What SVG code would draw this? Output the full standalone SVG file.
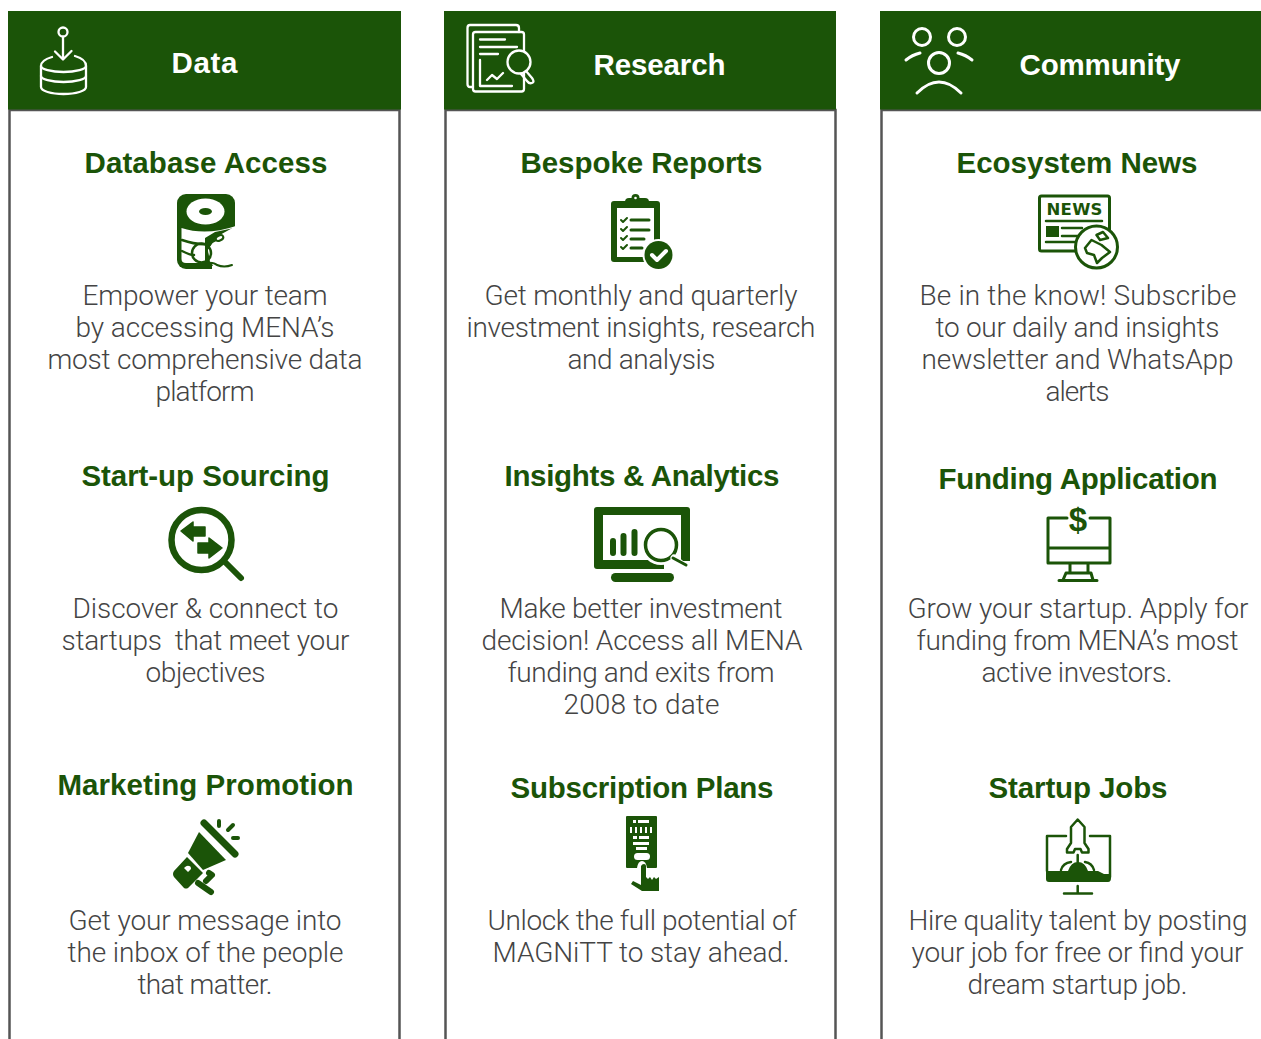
<svg xmlns="http://www.w3.org/2000/svg" width="1261" height="1039" viewBox="0 0 1261 1039">
<style>
text{white-space:pre}
.b{font-family:Roboto,"Liberation Sans",sans-serif;font-weight:300;font-size:28px;fill:#444}
.t{font-family:"Liberation Sans",Arial,sans-serif;font-weight:700;font-size:29.500px;fill:#1b5408}
.h{font-family:"Liberation Sans",Arial,sans-serif;font-weight:700;font-size:29.500px;fill:#fff}
.hd{fill:#1b5408}
.col{fill:#fff;stroke:#555;stroke-width:2.500}
.w{fill:none;stroke:#fff;stroke-width:2.300;stroke-linecap:round;stroke-linejoin:round}
.g{fill:#1b5408}
.gs{fill:none;stroke:#1b5408;stroke-linecap:round;stroke-linejoin:round}
.ws{fill:none;stroke:#fff;stroke-linecap:round;stroke-linejoin:round}
</style>
<rect width="1261" height="1039" fill="#fff"/>

<g id="col-data">
<rect class="col" x="9.500" y="110" width="390" height="940"/>
<rect class="hd" x="8" y="11" width="393" height="98.500"/>
<g id="icon-data" class="w">
<circle cx="63" cy="32" r="4.500"/><path d="M63 37V59M55 51.500l8 8 8.500-8.500"/>
<path d="M52 57C45 59 41 62 41 66V87C41 91 51 94 63.500 94S86 91 86 87V66C86 62 82 58 75 56"/>
<path d="M41 66C41 69 51 72 63.500 72S86 69 86 66M41 76C41 79 51 82 63.500 82S86 79 86 76"/>
</g>
<text class="h" x="171.500" y="73" textLength="66">Data</text>
</g>

<g id="col-research">
<rect class="col" x="445.500" y="110" width="390" height="940"/>
<rect class="hd" x="444" y="11" width="392" height="98.500"/>
<g id="icon-research" class="w">
<path d="M473 87H470Q467.500 87 467.500 84V28Q467.500 25 470 25H516Q519 25 519 28V32"/>
<rect x="473" y="32" width="51" height="59.500" rx="2.500"/>
<path d="M480 39.500H505M480 47H517M480 54H498M480 60V86H512M487 80L492 75 497 79 503 73"/>
<circle cx="519" cy="62" r="11.500" fill="#1b5408"/>
<path d="M526 71L532 78Q535 82 532 83 529 84 527 81L521 74"/>
</g>
<text class="h" x="593.500" y="75" textLength="132">Research</text>
</g>

<g id="col-community">
<rect class="col" x="881.500" y="110" width="400" height="940"/>
<rect class="hd" x="880" y="11" width="381" height="98.500"/>
<g id="icon-community" class="w" style="stroke-width:3">
<circle cx="922" cy="37" r="8.500"/><circle cx="957" cy="37" r="8.500"/><circle cx="939" cy="63" r="10.500"/>
<path d="M906 60Q912 55 920 53M958 53Q966 55 972 60M917 93Q939 71 961 93"/>
</g>
<text class="h" x="1019.500" y="75" textLength="161">Community</text>
</g>

<g id="node-database-access">
<text class="t" x="84.500" y="173" textLength="243">Database Access</text>
<rect class="g" x="177" y="194" width="58" height="75" rx="9"/>
<ellipse cx="205.500" cy="211.500" rx="19" ry="13" fill="#fff"/><ellipse class="g" cx="205.500" cy="211.500" rx="6.500" ry="3.500"/>
<path d="M181.500 228Q206 236 236 226V272H212V263H186Q181.500 263 181.500 259Z" fill="#fff"/>
<path class="g" d="M234 228L216 238 208 250 210 262 218 266H205V238L215 232Z"/>
<path d="M236 226L218 236 208 250 211 262 216 272H237Z" fill="#fff"/>
<path class="gs" stroke-width="2.500" d="M182 240Q196 245 208 244M182 251Q190 255 194 255"/>
<circle class="gs" cx="201.500" cy="253" r="9.500" stroke-width="2.500"/>
<path class="gs" stroke-width="2.500" d="M206 245L216 240"/>
<ellipse cx="219.500" cy="238" rx="4" ry="2.500" fill="#fff" stroke="#1b5408" stroke-width="2" transform="rotate(-25 219.500 238)"/>
<path class="gs" stroke-width="2" d="M206 263Q214 262 217 265 224 268 232 265"/>
<path class="g" d="M186 263H212L212 269H186Z"/>
</g>

<g id="node-bespoke-reports">
<text class="t" x="520.500" y="173" textLength="242">Bespoke Reports</text>
<rect class="g" x="611" y="201" width="49" height="61" rx="3"/>
<rect class="g" x="625" y="198" width="24" height="9" rx="4"/><circle class="g" cx="635.500" cy="198" r="4"/><circle cx="635.500" cy="198" r="1.300" fill="#fff"/>
<rect x="617" y="208" width="37" height="49" fill="#fff"/>
<path class="gs" stroke-width="2" d="M621 220l2 2 4-4M621 229l2 2 4-4M621 238l2 2 4-4M621 247l2 2 4-4"/>
<path class="gs" stroke-width="3" d="M631 220H649M631 230H649M631 239H644M631 248H642"/>
<circle cx="658.500" cy="255" r="16" fill="#fff"/><circle class="g" cx="658.500" cy="255" r="14"/>
<path class="ws" stroke-width="4" d="M652 255l5 5 9-9"/>
</g>

<g id="node-ecosystem-news">
<text class="t" x="956.500" y="173" textLength="241">Ecosystem News</text>
<rect class="gs" x="1039.500" y="196" width="70" height="55" rx="2" stroke-width="3"/>
<text x="1046.500" y="215" font-family="'DejaVu Sans',sans-serif" font-weight="700" font-size="16.500" fill="#1b5408" textLength="56">NEWS</text>
<path class="gs" stroke-width="2.500" d="M1046 221H1102M1062 228H1082M1062 236H1078M1046 242H1076"/>
<rect class="g" x="1046" y="226" width="13" height="11"/>
<circle cx="1096.500" cy="247" r="21" fill="#fff" stroke="#1b5408" stroke-width="3"/>
<path class="gs" stroke-width="2.500" d="M1085 248L1091.500 240 1101.500 245 1110 252 1102 258 1097 263 1094 255 1087 253ZM1096.500 235L1103 232 1108 238 1100 240Z"/>
</g>

<g id="node-startup-sourcing">
<text class="t" x="81.500" y="486" textLength="248">Start-up Sourcing</text>
<circle class="gs" cx="201.500" cy="540" r="30" stroke-width="6.500"/>
<path class="gs" stroke-width="6" d="M226 563L241 578"/>
<path class="g" d="M181 531L193 522V527H205V536H193V541ZM222 548L209 538V543H198V553H209V558Z" stroke="#1b5408" stroke-width="1.500" stroke-linejoin="round"/>
</g>

<g id="node-insights">
<text class="t" x="504.500" y="486" textLength="275">Insights &amp; Analytics</text>
<rect class="g" x="594" y="507" width="96" height="62" rx="3"/>
<rect x="603" y="515" width="78" height="45" fill="#fff"/>
<path class="gs" stroke-width="6" d="M613 541V553M623.500 536V553M634.500 532V553"/>
<path d="M664 561H692V572H664Z" fill="#fff"/>
<circle cx="661" cy="545" r="20" fill="#fff"/>
<circle class="gs" cx="661" cy="545" r="15.500" stroke-width="3.500"/>
<path class="ws" stroke-width="7" d="M674 558L686 568"/>
<path class="gs" stroke-width="3" d="M673 558L686 565"/>
<rect class="g" x="611" y="573" width="63" height="9" rx="4.500"/>
</g>

<g id="node-funding">
<text class="t" x="938.500" y="489" textLength="279">Funding Application</text>
<path class="gs" stroke-width="3" d="M1067 518H1048V563H1110V518H1090M1048 548H1110M1070 564V572M1088 564V572M1066 573H1091L1093 580M1066 573L1063 580M1059 580.500H1097"/>
<text x="1078" y="531" text-anchor="middle" font-family="'Liberation Sans',sans-serif" font-weight="700" font-size="33" fill="#1b5408">$</text>
</g>

<g id="node-marketing">
<text class="t" x="57.500" y="795" textLength="296">Marketing Promotion</text>
<path class="gs" stroke-width="7" d="M204 823L235 854"/>
<path class="g" d="M199 832L226 860 203 870 188 853Z"/>
<path class="g" fill-rule="evenodd" d="M187 857L203 873 188 888Q186 889 184 888L174 877Q172 874 174 871ZM184 868L188 872 191 869Q191 866 189 866 187 865 184 868Z"/>
<path class="gs" stroke-width="4" d="M219 821V826M228 830L233 825M233 838H238"/>
<path class="gs" stroke-width="6" d="M209 873L212 875 206 881M198 883L211 892"/>
</g>

<g id="node-subscription">
<text class="t" x="510.500" y="798" textLength="263">Subscription Plans</text>
<rect class="g" x="626" y="816" width="31" height="52" rx="1"/>
<path fill="#fff" d="M633 820h3v3h-3zM638 820h11v3h-11zM630 827h2v6h-2zM635 827h2v6h-2zM640 827h2v6h-2zM645 827h2v6h-2zM650 827h2v6h-2zM633 836h4v3h-4zM639 836h10v3h-10zM633 842h16v3h-16zM636 847h11v3h-11z"/>
<rect x="634" y="853" width="16" height="7" rx="3.500" fill="#fff"/>
<path d="M637 868Q638 861 642 861T647 868Z" fill="#fff"/>
<path class="g" d="M641 866Q642 864 644 864 646 864 646 866V877L648 879 650 877 652 880 654 877 656 879 659 877V891H642L631 884 633 881 641 885Z"/>
</g>

<g id="node-startup-jobs">
<text class="t" x="988.500" y="798" textLength="179">Startup Jobs</text>
<path class="gs" stroke-width="2.500" d="M1066 836H1047V871M1090 836H1110V877"/>
<path class="g" d="M1046 871H1068Q1071 862 1078 862 1085 862 1088 871H1098L1104 874 1111 874V878Q1111 882 1108 882H1049Q1046 882 1046 879Z"/>
<path class="gs" stroke-width="2.500" d="M1061 870Q1063 863 1071 862M1094 870Q1092 863 1085 862"/>
<path class="gs" stroke-width="2.500" d="M1077.700 819.500L1071 827V843L1067 849V852.500H1073.500L1075 849H1080.500L1082 852.500H1088.500V849L1084.500 843V827Z"/>
<path class="gs" stroke-width="2.500" d="M1077.700 855V862M1077.700 886V893M1064 893.500H1092"/>
</g>

<g id="body-text" transform="translate(-0.500 0)">
<text class="b" x="83" y="305" textLength="245">Empower your team</text>
<text class="b" x="76" y="337" textLength="259">by accessing MENA’s</text>
<text class="b" x="48" y="369" textLength="315">most comprehensive data</text>
<text class="b" x="156" y="401" textLength="99">platform</text>
<text class="b" x="73" y="618" textLength="266">Discover &amp; connect to</text>
<text class="b" x="62" y="650" textLength="288">startups  that meet your</text>
<text class="b" x="146" y="682" textLength="120">objectives</text>
<text class="b" x="69" y="930" textLength="273">Get your message into</text>
<text class="b" x="68" y="962" textLength="276">the inbox of the people</text>
<text class="b" x="138" y="994" textLength="135">that matter.</text>
<text class="b" x="485" y="305" textLength="313">Get monthly and quarterly</text>
<text class="b" x="467" y="337" textLength="349">investment insights, research</text>
<text class="b" x="568" y="369" textLength="148">and analysis</text>
<text class="b" x="500" y="618" textLength="283">Make better investment</text>
<text class="b" x="482" y="650" textLength="321">decision! Access all MENA</text>
<text class="b" x="508" y="682" textLength="267">funding and exits from</text>
<text class="b" x="564" y="714" textLength="156">2008 to date</text>
<text class="b" x="488" y="930" textLength="309">Unlock the full potential of</text>
<text class="b" x="493" y="962" textLength="297">MAGNiTT to stay ahead.</text>
<text class="b" x="920" y="305" textLength="317">Be in the know! Subscribe</text>
<text class="b" x="936" y="337" textLength="284">to our daily and insights</text>
<text class="b" x="922" y="369" textLength="312">newsletter and WhatsApp</text>
<text class="b" x="1046" y="401" textLength="64">alerts</text>
<text class="b" x="908" y="618" textLength="341">Grow your startup. Apply for</text>
<text class="b" x="917" y="650" textLength="322">funding from MENA’s most</text>
<text class="b" x="982" y="682" textLength="191">active investors.</text>
<text class="b" x="909" y="930" textLength="339">Hire quality talent by posting</text>
<text class="b" x="912" y="962" textLength="332">your job for free or find your</text>
<text class="b" x="968" y="994" textLength="220">dream startup job.</text>
</g>
</svg>
